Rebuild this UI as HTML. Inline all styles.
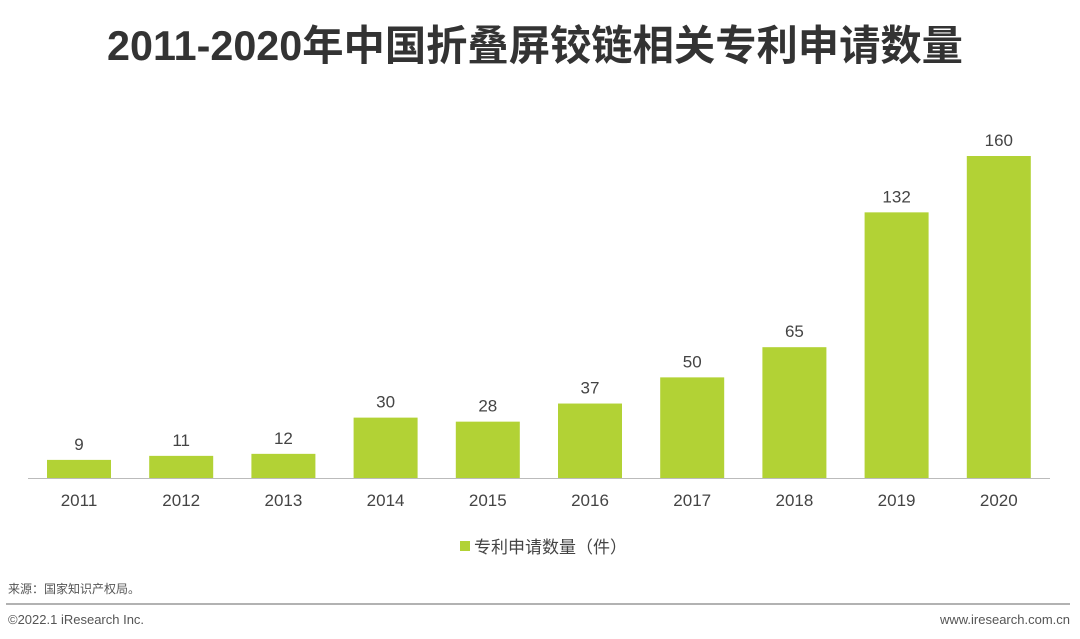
<!DOCTYPE html>
<html><head><meta charset="utf-8"><style>
body{margin:0;width:1080px;height:639px;background:#fff;overflow:hidden;font-family:"Liberation Sans","Noto Sans CJK SC",sans-serif;}
svg{display:block}
</style></head><body>
<svg id="c" width="1080" height="639">
<text x="535" y="60" text-anchor="middle" font-size="41.3" font-weight="bold" fill="#333" font-family="'Liberation Sans','Noto Sans CJK SC',sans-serif">2011-2020年中国折叠屏铰链相关专利申请数量</text>
<line x1="28" y1="478.5" x2="1050" y2="478.5" stroke="#bbb" stroke-width="1"/>
<g id="bars"></g>
<rect x="460" y="541" width="10" height="10" fill="#b2d235"/>
<text x="474" y="553" font-size="17" fill="#444">专利申请数量（件）</text>
<text x="8" y="593" font-size="12" fill="#555">来源：国家知识产权局。</text>
<line x1="6" y1="604" x2="1070" y2="604" stroke="#999" stroke-width="1.5"/>
<text x="8" y="624" font-size="13" fill="#555">©2022.1 iResearch Inc.</text>
<text x="1070" y="624" font-size="13" fill="#555" text-anchor="end">www.iresearch.com.cn</text>
</svg>
<script>
const categories=["2011","2012","2013","2014","2015","2016","2017","2018","2019","2020"];
const values=[9,11,12,30,28,37,50,65,132,160];
const baseY=478, scale=322/160, x0=79, step=102.2, bw=64;
const y=v=>baseY-v*scale, x=i=>x0+i*step;
const g=document.getElementById('bars');
const NS="http://www.w3.org/2000/svg";
categories.forEach((c,i)=>{
  const r=document.createElementNS(NS,'rect');
  r.setAttribute('x',x(i)-bw/2);r.setAttribute('y',y(values[i]));
  r.setAttribute('width',bw);r.setAttribute('height',baseY-y(values[i]));
  r.setAttribute('fill','#b2d235');
  
  
  g.appendChild(r);
  const t=document.createElementNS(NS,'text');
  t.setAttribute('x',x(i));t.setAttribute('y',y(values[i])-10);
  t.setAttribute('text-anchor','middle');t.setAttribute('font-size','17');t.setAttribute('fill','#444');
  t.textContent=values[i];
  
  
  g.appendChild(t);
  const l=document.createElementNS(NS,'text');
  l.setAttribute('x',x(i));l.setAttribute('y',506);
  l.setAttribute('text-anchor','middle');l.setAttribute('font-size','17');l.setAttribute('fill','#444');
  l.textContent=c;
  
  
  g.appendChild(l);
});
</script>
</body></html>
